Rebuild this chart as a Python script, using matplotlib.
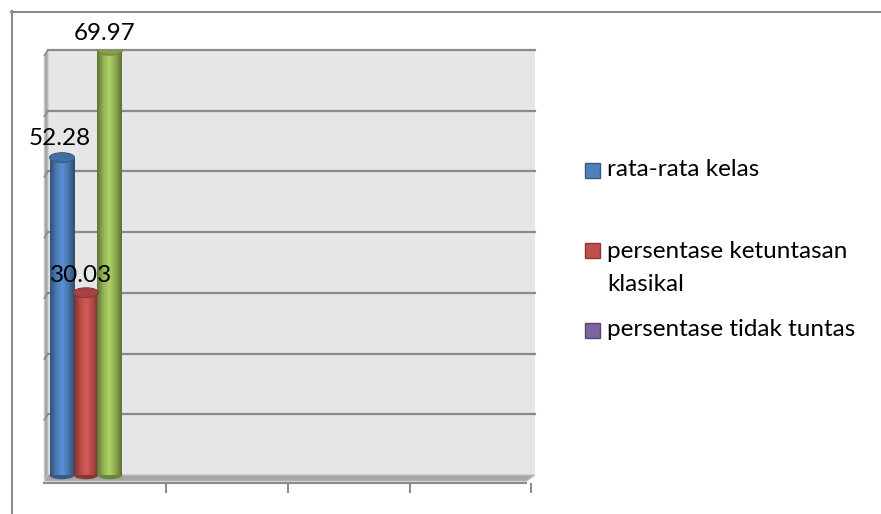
import numpy as np
import matplotlib
matplotlib.use("Agg")
import matplotlib.pyplot as plt
from matplotlib.patches import Rectangle, Ellipse, Polygon
from matplotlib.colors import LinearSegmentedColormap, to_rgb

plt.rcParams['font.family'] = ['Lato', 'DejaVu Sans']

series = ['rata-rata kelas', 'persentase ketuntasan\nklasikal', 'persentase tidak tuntas']
values = [52.28, 30.03, 69.97]
value_labels = ['52.28', '30.03', '69.97']
bar_colors = ['#4F81BD', '#C0504D', '#9BBB59']
legend_colors = ['#4F81BD', '#C0504D', '#8064A2']

W, H = 881, 514
fig = plt.figure(figsize=(W / 100, H / 100), dpi=100)


def fx(px):
    return px / W


def fy(py):
    return 1 - py / H


# outer frame (top and left edge only visible)
fig.add_artist(plt.Line2D([fx(11), 1], [fy(11.5), fy(11.5)], color='#8c8c8c', lw=1.5))
fig.add_artist(plt.Line2D([fx(11.5), fx(11.5)], [fy(11), 0], color='#8c8c8c', lw=1.5))

ax = fig.add_axes([fx(48), fy(475), fx(535) - fx(48), fy(50) - fy(475)])
ax.set_xlim(0, 4)
ax.set_ylim(0, 70)
ax.set_facecolor('#e6e6e6')

# gridlines on back wall + slanted part on the side wall
for g in np.arange(10, 71, 10):
    ax.plot([0, 4], [g, g], color='#8a8a8a', lw=1.6, zorder=1, clip_on=False)
    ax.plot([-0.03, 0], [g - 0.9, g], color='#8a8a8a', lw=1.2, zorder=1, clip_on=False)

# left side wall
ax.add_patch(Polygon([[-0.03, -1.0], [0.0, 0.0], [0.0, 70], [-0.03, 69.0]],
                     closed=True, facecolor='#a6a6a6', edgecolor='#c8c8c8',
                     lw=0.8, clip_on=False, zorder=0.5))
# floor strip
ax.add_patch(Polygon([[-0.03, -1.0], [3.93, -1.0], [4.0, 0.0], [0.0, 0.0]],
                     closed=True, facecolor='#a6a6a6', edgecolor='#c0c0c0',
                     lw=0.8, clip_on=False, zorder=0.5))

for s in ['top', 'right', 'left']:
    ax.spines[s].set_visible(False)
ax.spines['bottom'].set_position(('outward', 6))
ax.spines['bottom'].set_color('#8c8c8c')
ax.spines['bottom'].set_linewidth(1.5)
ax.spines['bottom'].set_bounds(-0.03, 3.93)
ax.set_xticks(np.arange(5) - 0.03)
ax.set_xticklabels([])
ax.tick_params(axis='x', length=7, width=1.5, color='#8c8c8c')
ax.set_yticks([])

# cylinders
width = 0.205
xs = 0.115 + np.arange(len(values)) * 0.197
for x, v, c in zip(xs, values, bar_colors):
    bars = ax.bar(x, v, width=width, color=c, zorder=3)
    rgb = np.array(to_rgb(c))
    cmap = LinearSegmentedColormap.from_list(
        'cyl', [rgb * 0.62, rgb * 0.95, np.minimum(rgb * 1.12, 1), rgb * 0.9, rgb * 0.6])
    grad = np.linspace(0, 1, 64).reshape(1, -1)
    im = ax.imshow(grad, extent=[x - width / 2, x + width / 2, 0, v], aspect='auto',
                   cmap=cmap, zorder=3.1)
    im.set_clip_path(bars[0])
    ax.add_patch(Ellipse((x, v), width, 1.6, facecolor=rgb * 0.85,
                         edgecolor=rgb * 0.7, lw=0.8, zorder=3.3))
    ax.add_patch(Ellipse((x, 0), width, 1.4, facecolor=rgb * 0.7,
                         edgecolor='none', zorder=2.9, clip_on=False))

ax.set_xlim(0, 4)
ax.set_ylim(0, 70)

# data labels
label_dx = [-0.02, -0.04, -0.04]
label_dy = [3.2, 2.9, 2.7]
for x, v, lab, dx, dy in zip(xs, values, value_labels, label_dx, label_dy):
    ax.text(x + dx, v + dy, lab, ha='center', va='center',
            fontsize=17.5, color='black', zorder=5, clip_on=False)

# legend
leg_y = [170, 250, 330]
for lab, c, py in zip(series, legend_colors, leg_y):
    rgb = np.array(to_rgb(c))
    fig.add_artist(Rectangle((fx(585), fy(py + 7.5)), fx(600) - fx(585), fy(py - 7.5) - fy(py + 7.5),
                             facecolor=c, edgecolor=rgb * 0.7, lw=1.0))
    if '\n' in lab:
        fig.text(fx(607), fy(py - 9), lab, ha='left', va='top',
                 fontsize=17.5, color='black', linespacing=1.7)
    else:
        fig.text(fx(607), fy(py), lab, ha='left', va='center',
                 fontsize=17.5, color='black')

fig.savefig('out.png', dpi=100)
